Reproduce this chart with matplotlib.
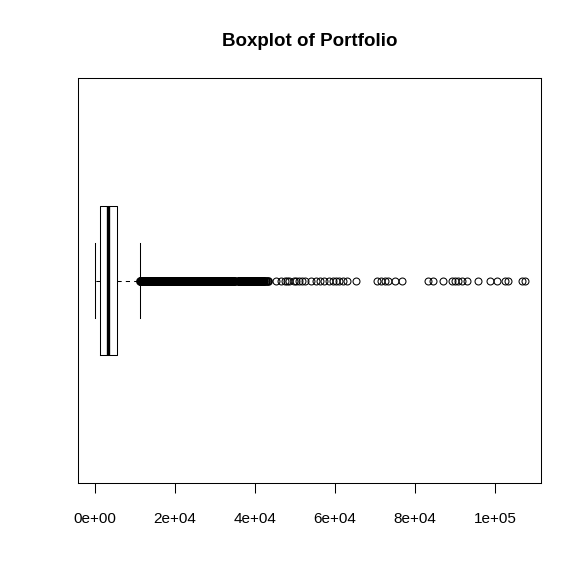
import matplotlib
matplotlib.use("Agg")
import matplotlib.pyplot as plt

plt.rcParams['font.family'] = ['Liberation Sans', 'DejaVu Sans']

# five number summary
whisker_lo = 0
q1 = 1250
med = 3300
q3 = 5400
whisker_hi = 11250

# outliers: the dense run just past the whisker, then the sparse tail
out_dense = [11300, 11400, 11500, 11600, 11700, 11800, 11900, 12000, 12100, 12300,
             12500, 12600, 12700, 12900, 13100, 13200, 13300, 13500, 13700, 13800,
             13900, 14100, 14300, 14400, 14500, 14700, 14900, 15000, 15100, 15300,
             15500, 15600, 15700, 15900, 16100, 16200, 16300, 16500, 16700, 16800,
             16900, 17100, 17300, 17400, 17500, 17700, 17900, 18000, 18100, 18300,
             18500, 18600, 18700, 18900, 19100, 19200, 19300, 19500, 19700, 19800,
             19900, 20100, 20300, 20400, 20500, 20700, 20900, 21000, 21100, 21300,
             21500, 21600, 21700, 21900, 22100, 22200, 22300, 22500, 22700, 22800,
             22900, 23100, 23300, 23400, 23500, 23700, 23900, 24000, 24100, 24300,
             24500, 24600, 24700, 24900, 25100, 25200, 25300, 25500, 25700, 25800,
             25900, 26100, 26300, 26400, 26500, 26700, 26900, 27000, 27100, 27300,
             27500, 27600, 27700, 27900, 28100, 28200, 28300, 28500, 28700, 28800,
             28900, 29100, 29300, 29400, 29500, 29700, 29900, 30000, 30100, 30300,
             30500, 30600, 30700, 30900, 31100, 31200, 31300, 31500, 31700, 31800,
             31900, 32100, 32300, 32400, 32500, 32700, 32900, 33000, 33100, 33300,
             33500, 33600, 33700, 33900, 34100, 34200, 34300, 34500, 34700, 34900,
             35900, 36000, 36100, 36300, 36500, 36600, 36700, 36900, 37100, 37200,
             37300, 37500, 37700, 37800, 37900, 38100, 38300, 38400, 38500, 38700,
             38900, 39000, 39100, 39300, 39500, 39600, 39700, 39900, 40100, 40200,
             40300, 40500, 40700, 40800, 40900, 41100, 41300, 41500, 41700, 41900,
             42100, 42300, 42700, 43300]
out_tail = [45300, 46500, 47500, 48000, 48500, 49800, 50300, 51000, 51800, 52500,
            54000, 55300, 56300, 57300, 58500, 59500, 60300, 61000, 62000, 63000,
            65300, 70500, 71500, 72500, 73300, 75000, 76800,
            83300, 84500, 87000, 89300, 90000, 90800, 91800, 93000, 95800, 98800,
            100500, 102500, 103300, 106800, 107500]

xticks = [0, 20000, 40000, 60000, 80000, 100000]
xticklabels = ['0e+00', '2e+04', '4e+04', '6e+04', '8e+04', '1e+05']

stats = [dict(whislo=whisker_lo, q1=q1, med=med, q3=q3, whishi=whisker_hi,
              fliers=out_tail)]

fig = plt.figure(figsize=(5.82, 5.81), dpi=100)
ax = fig.add_axes([0.1345, 0.1687, 0.795, 0.697])

ax.bxp(stats, positions=[1], widths=0.4, vert=False, capwidths=0.2,
       boxprops=dict(color='black', linewidth=0.75),
       medianprops=dict(color='black', linewidth=2.4, solid_capstyle='butt'),
       whiskerprops=dict(color='black', linewidth=0.75, linestyle=(0, (4, 4))),
       capprops=dict(color='black', linewidth=0.75),
       flierprops=dict(marker='o', markerfacecolor='none', markeredgecolor='black',
                       markersize=5, markeredgewidth=0.75, linestyle='none'))
# dense outliers drawn on their own so the run fills in solid like the original
ax.plot(out_dense, [1] * len(out_dense), linestyle='none', marker='o',
        markerfacecolor='none', markeredgecolor='black', markersize=5,
        markeredgewidth=1.3)

ax.set_xlim(-4175, 111500)
ax.set_ylim(0.46, 1.54)
ax.set_yticks([])
ax.set_xticks(xticks)
ax.set_xticklabels(xticklabels, fontsize=11)
ax.tick_params(axis='x', length=7, width=0.75, pad=14, color='black')
for s in ax.spines.values():
    s.set_linewidth(0.75)
    s.set_color('black')

fig.text(0.532, 0.929, 'Boxplot of Portfolio', ha='center', va='center',
         fontsize=13.5, fontweight='bold')

fig.savefig('out.png', dpi=100)
